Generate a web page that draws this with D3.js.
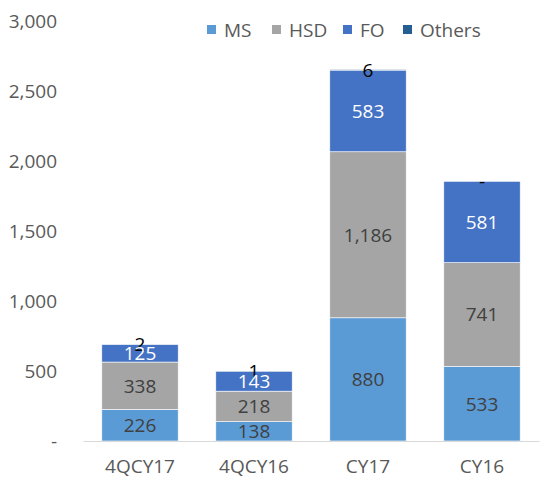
<!DOCTYPE html>
<html>
<head>
<meta charset="utf-8">
<script src="https://cdn.jsdelivr.net/npm/d3@7"></script>
<style>
  body { margin: 0; background: #fff; }
  svg { display: block; font-family: "Open Sans", sans-serif; }
</style>
</head>
<body>
<div id="chart"></div>
<script>
// categories and series
var categories = ["4QCY17", "4QCY16", "CY17", "CY16"];
var seriesNames = ["MS", "HSD", "FO", "Others"];
var ms     = [226, 138, 880, 533];
var hsd    = [338, 218, 1186, 741];
var fo     = [125, 143, 583, 581];
var others = [2, 1, 6, 0];
var yTicks = [0, 500, 1000, 1500, 2000, 2500, 3000];

var colors = ["#5B9BD5", "#A5A5A5", "#4472C4", "#255E91"];
var labelColors = ["#404040", "#404040", "#ffffff", "#000000"];

var w = 540, h = 477;
var fs = 19;

var rows = categories.map(function (c, i) {
  return { cat: c, MS: ms[i], HSD: hsd[i], FO: fo[i], Others: others[i] };
});
var stacked = d3.stack().keys(seriesNames)(rows);

var x = d3.scaleBand().domain(categories).range([83, 539]).paddingInner(0.33).paddingOuter(0.165);
var y = d3.scaleLinear().domain([0, 3000]).range([441, 21]);

var svg = d3.select("#chart").append("svg").attr("width", w).attr("height", h);

var numFmt = d3.format(",");
function fmt(v) { return v === 0 ? "-" : numFmt(v); }

// y axis
var yAxis = svg.append("g").attr("transform", "translate(57,0)")
  .call(d3.axisLeft(y).tickValues(yTicks).tickSize(0).tickPadding(0).tickFormat(fmt));
yAxis.select(".domain").remove();
yAxis.selectAll("text").attr("font-size", fs).attr("fill", "#595959").attr("font-family", "Open Sans");

// bars
var layer = svg.selectAll(".layer").data(stacked).enter().append("g")
  .attr("fill", function (d, i) { return colors[i]; });
layer.selectAll("rect").data(function (d) { return d; }).enter().append("rect")
  .attr("x", function (d) { return x(d.data.cat); })
  .attr("y", function (d) { return y(d[1]); })
  .attr("width", x.bandwidth())
  .attr("height", function (d) { return y(d[0]) - y(d[1]); })
  .attr("stroke", "#ffffff").attr("stroke-width", 0.6);

// x axis
var xAxis = svg.append("g").attr("transform", "translate(0,441)")
  .call(d3.axisBottom(x).tickSize(0).tickPadding(19));
xAxis.select(".domain").attr("stroke", "#d9d9d9").attr("stroke-width", 1.2);
xAxis.selectAll("text").attr("font-size", fs).attr("fill", "#595959").attr("font-family", "Open Sans");

// data labels - Others first so the FO labels sit on top of them
[3, 0, 1, 2].forEach(function (si) {
  svg.append("g").selectAll("text").data(stacked[si]).enter().append("text")
    .attr("x", function (d) { return x(d.data.cat) + x.bandwidth() / 2; })
    .attr("y", function (d) { return (y(d[0]) + y(d[1])) / 2; })
    .attr("dy", "0.36em")
    .attr("text-anchor", "middle")
    .attr("font-size", fs)
    .attr("fill", labelColors[si])
    .text(function (d) { return fmt(d[1] - d[0]); });
});

// legend
var legendX = [207, 272, 343, 403];
var legend = svg.append("g");
seriesNames.forEach(function (n, i) {
  legend.append("rect").attr("x", legendX[i]).attr("y", 25).attr("width", 9).attr("height", 9).attr("fill", colors[i]);
  legend.append("text").attr("x", legendX[i] + 17).attr("y", 30).attr("dy", "0.36em")
    .attr("font-size", fs).attr("fill", "#595959").text(n);
});
</script>
</body>
</html>
